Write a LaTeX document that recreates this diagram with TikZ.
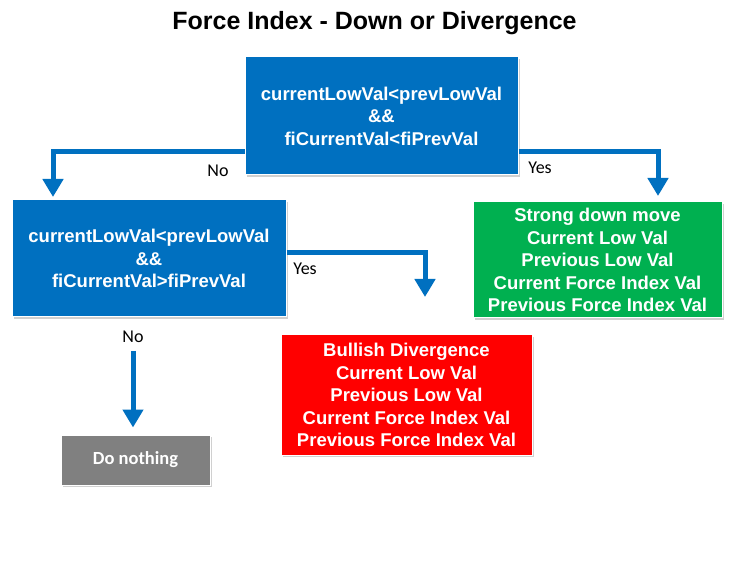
\documentclass[tikz,border=0pt]{standalone}
\usepackage{fontspec}
\setmainfont{Liberation Sans}
\newfontfamily\calibri{Carlito}
\usepackage{tikz}
\usetikzlibrary{
    arrows.meta,
    positioning,
    shadows,
}
\definecolor{flowblue}{RGB}{0,112,192}
\definecolor{flowgreen}{RGB}{0,176,80}
\definecolor{flowred}{RGB}{255,0,0}
\definecolor{flowgray}{RGB}{128,128,128}
\tikzstyle{arrow}=[draw=flowblue, line width=5pt, -{Triangle[length=18pt, width=20pt]}]
\tikzset{
    box/.style={rectangle, draw=white, line width=1pt, align=center, text=white,
        font=\bfseries\fontsize{18.5}{22.5}\selectfont, inner sep=0pt,
        drop shadow={shadow xshift=1.5pt, shadow yshift=-2pt, opacity=0.3, fill=black!60}},
    answer/.style={font=\calibri\fontsize{18}{20}\selectfont},
}

\begin{document}
\begin{tikzpicture}[x=1pt, y=1pt]
            \useasboundingbox[fill=white] (0,0) rectangle (750,563);
            \node[font=\bfseries\fontsize{25}{28}\selectfont] (title) at (374.5,540) {Force Index - Down or Divergence};
            \node[box,fill=flowblue,minimum width=273pt,minimum height=118pt] (lowfi) at (381.5,447) {currentLowVal<prevLowVal\\\&\&\\fiCurrentVal<fiPrevVal};
            \node[box,fill=flowblue,minimum width=274pt,minimum height=117pt] (lowfidiv) at (149,304.5) {currentLowVal<prevLowVal\\\&\&\\fiCurrentVal>fiPrevVal};
            \node[box,fill=flowgreen,minimum width=249pt,minimum height=116pt] (strongdown) at (597.5,303) {Strong down move\\Current Low Val\\Previous Low Val\\Current Force Index Val\\Previous Force Index Val};
            \node[box,fill=flowred,minimum width=251pt,minimum height=120pt] (bulldiv) at (406.5,168) {Bullish Divergence\\Current Low Val\\Previous Low Val\\Current Force Index Val\\Previous Force Index Val};
            \node[box,fill=flowgray,minimum width=149pt,minimum height=50pt,font=\calibri\bfseries\fontsize{18.5}{22}\selectfont] (donothing) at (135.5,103) {Do nothing};
            % free ends of the arrows
            \coordinate (notip) at (53,366);
            \coordinate (yestip) at (658,367);
            \coordinate (divtip) at (425,266);
            \coordinate (nothingstart) at (133,212);
            \draw[arrow] ([yshift=-36pt]lowfi.west) -| (notip);
            \draw[arrow] ([yshift=-36pt]lowfi.east) -| (yestip);
            \draw[arrow] ([yshift=5.5pt]lowfidiv.east) -| (divtip);
            \draw[arrow] (nothingstart) -- ([yshift=7pt]donothing.north -| nothingstart);
            \node[answer] (no) at (218,392) {No};
            \node[answer] (yes) at (540,395) {Yes};
            \node[answer] (yesdiv) at (305,294) {Yes};
            \node[answer] (nonothing) at (133,226) {No};
        \end{tikzpicture}
\end{document}
